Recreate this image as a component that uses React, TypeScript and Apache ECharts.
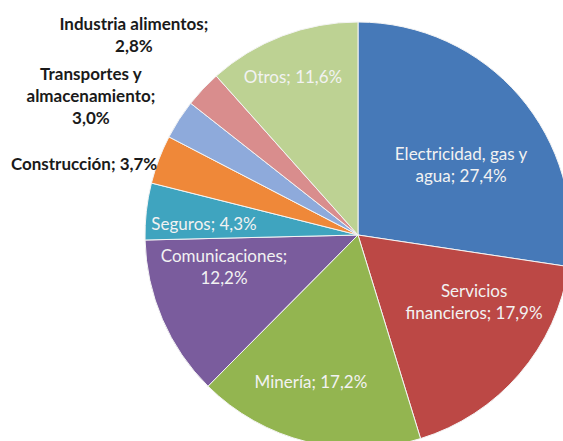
import React, { useEffect, useRef } from "react";
import * as echarts from "echarts";

const categories = [
  "Electricidad, gas y agua",
  "Servicios financieros",
  "Minería",
  "Comunicaciones",
  "Seguros",
  "Construcción",
  "Transportes y almacenamiento",
  "Industria alimentos",
  "Otros",
];
const values = [27.4, 17.9, 17.2, 12.2, 4.3, 3.7, 3.0, 2.8, 11.6];
const labelTemplates = [
  "Electricidad, gas y\nagua; {v}%",
  "Servicios\nfinancieros; {v}%",
  "Minería; {v}%",
  "Comunicaciones;\n{v}%",
  "Seguros; {v}%",
  "Construcción; {v}%",
  "Transportes y\nalmacenamiento;\n{v}%",
  "Industria alimentos;\n{v}%",
  "Otros; {v}%",
];
const colors = [
  "#4679B8",
  "#BC4845",
  "#93B550",
  "#7A5C9D",
  "#3FA4BF",
  "#EF8839",
  "#8EAADB",
  "#D98D8D",
  "#BDD293",
];
const insideLabel = [true, true, true, true, true, false, false, false, true];
// label anchor offsets from pie centre, in units of the radius
const labelAnchors: [number, number][] = [
  [0.484, -0.333],
  [0.545, 0.31],
  [-0.221, 0.69],
  [-0.629, 0.15],
  [-0.723, -0.056],
  [-1.286, -0.338],
  [-1.254, -0.653],
  [-1.052, -0.939],
  [-0.305, -0.742],
];

const CX = 358;
const CY = 235;
const R = 213;

export default function App() {
  const ref = useRef<HTMLDivElement>(null);
  useEffect(() => {
    if (!ref.current) return;
    const chart = echarts.init(ref.current, undefined, { renderer: "svg" });
    const data = categories.map((name, i) => ({
      name,
      value: values[i],
      itemStyle: { color: colors[i] },
      label: {
        color: insideLabel[i] ? "#F2F2F2" : "#1A1A1A",
        fontWeight: insideLabel[i] ? "normal" : "bold",
      },
    }));
    chart.setOption({
      animation: false,
      backgroundColor: "#ffffff",
      series: [
        {
          type: "pie",
          center: [CX, CY],
          radius: R,
          startAngle: 90,
          clockwise: true,
          avoidLabelOverlap: false,
          data,
          itemStyle: { borderColor: "#f4f4f4", borderWidth: 1 },
          label: {
            show: true,
            position: "inside",
            fontFamily: "Lato",
            fontSize: 17,
            lineHeight: 22,
            align: "center",
            formatter: (p: any) =>
              labelTemplates[p.dataIndex].replace(
                "{v}",
                Number(p.value).toFixed(1).replace(".", ",")
              ),
          },
          labelLine: { show: false },
          labelLayout: (p: any) => {
            const a = labelAnchors[p.dataIndex];
            return {
              x: CX + a[0] * R,
              y: CY + a[1] * R,
              align: "center",
              verticalAlign: "middle",
            };
          },
        },
      ],
    });
    return () => chart.dispose();
  }, []);
  return (
    <div
      ref={ref}
      style={{ position: "fixed", left: 0, top: 0, width: 563, height: 441 }}
    />
  );
}
